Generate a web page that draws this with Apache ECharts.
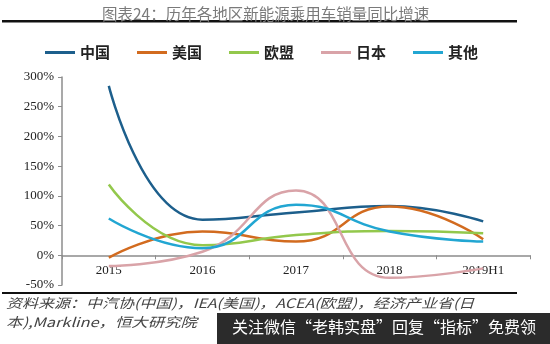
<!DOCTYPE html>
<html>
<head>
<meta charset="utf-8">
<script src="https://cdn.jsdelivr.net/npm/echarts@6/dist/echarts.min.js"></script>
<style>
  html, body { margin: 0; padding: 0; background: #fff; }
  #chart { width: 550px; height: 344px; }
</style>
</head>
<body>
<div id="chart"></div>
<script>
// Year-on-year growth of new-energy passenger car sales by region (%)
const categories = ['2015', '2016', '2017', '2018', '2019H1'];
const seriesNames = ['中国', '美国', '欧盟', '日本', '其他'];
const chinaValues = [285, 60, 72, 83, 57];
const usValues = [-4, 40, 23, 82, 27];
const euValues = [119, 17, 34, 41, 37];
const japanValues = [-18, 6, 109, -38, -22];
const otherValues = [62, 12, 85, 40, 23];
const yTickValues = [-50, 0, 50, 100, 150, 200, 250, 300];

const titleText = '图表24：历年各地区新能源乘用车销量同比增速';
const sourceLine1 = '资料来源：中汽协(中国)，IEA(美国)，ACEA(欧盟)，经济产业省(日';
const sourceLine2 = '本),Markline，恒大研究院';
const bannerText = '关注微信“老韩实盘”回复“指标”免费领';

const palette = ['#1d5f8c', '#d26b1f', '#93c84c', '#d9a3a8', '#22a6d2'];
const allValues = [chinaValues, usValues, euValues, japanValues, otherValues];

const chart = echarts.init(document.getElementById('chart'), null, { renderer: 'canvas' });

const serif = '"Liberation Serif", "Times New Roman", serif';
const cjk = '"Noto Sans CJK SC", sans-serif';

// plot area geometry; the category axis sits on the 0% line
const gridTop = 77, gridBottom = 59, chartH = 344;
const yMin = yTickValues[0], yMax = yTickValues[yTickValues.length - 1];
const plotH = chartH - gridTop - gridBottom;
const zeroOffset = -plotH * (0 - yMin) / (yMax - yMin);

chart.setOption({
  animation: false,
  backgroundColor: '#fff',
  color: palette,
  title: {
    text: titleText,
    left: 97,
    top: 1,
    textStyle: { fontFamily: cjk, fontSize: 15.5, fontWeight: 'normal', color: '#7a7a7a' }
  },
  legend: {
    data: seriesNames,
    left: 40,
    top: 40,
    icon: 'rect',
    itemWidth: 30,
    itemHeight: 3,
    itemGap: 27,
    textStyle: { fontFamily: cjk, fontSize: 15, fontWeight: 'bold', color: '#222' }
  },
  grid: { left: 62, right: 20, top: gridTop, bottom: gridBottom },
  xAxis: {
    type: 'category',
    data: categories,
    boundaryGap: true,
    offset: zeroOffset,
    axisLine: { onZero: false, lineStyle: { color: '#8c8c8c', width: 1.5 } },
    axisTick: { show: true, length: 4, inside: false, lineStyle: { color: '#8c8c8c' } },
    axisLabel: { fontFamily: serif, fontSize: 13, color: '#222', margin: 9 }
  },
  yAxis: {
    type: 'value',
    min: yMin,
    max: yMax,
    interval: 50,
    splitLine: { show: false },
    axisLine: { show: true, lineStyle: { color: '#8c8c8c', width: 1.5 } },
    axisTick: { show: true, length: 4, lineStyle: { color: '#8c8c8c' } },
    axisLabel: { fontFamily: serif, fontSize: 13, color: '#222', margin: 8, formatter: v => v + '%' }
  },
  series: seriesNames.map((name, i) => ({
    name: name,
    type: 'line',
    data: allValues[i],
    smooth: 0.5,
    showSymbol: false,
    symbol: 'none',
    lineStyle: { width: 2.5, color: palette[i] },
    itemStyle: { color: palette[i] }
  })),
  graphic: [
    { type: 'rect', shape: { x: 2, y: 20, width: 515, height: 2.5 }, style: { fill: '#111' } },
    { type: 'rect', shape: { x: 2, y: 292, width: 515, height: 2 }, style: { fill: '#111' } },
    { type: 'text', x: 6, y: 297, scaleX: 1.23,
      style: { text: sourceLine1, font: 'italic 13px ' + cjk, fill: '#444' } },
    { type: 'text', x: 6, y: 316, scaleX: 1.26,
      style: { text: sourceLine2, font: 'italic 13px ' + cjk, fill: '#444' } },
    { type: 'rect', shape: { x: 217, y: 313, width: 333, height: 31 }, style: { fill: '#2b2b2b' } },
    { type: 'text', x: 232, y: 319,
      style: { text: bannerText, font: '16px ' + cjk, fill: '#fff' } }
  ]
});
</script>
</body>
</html>
